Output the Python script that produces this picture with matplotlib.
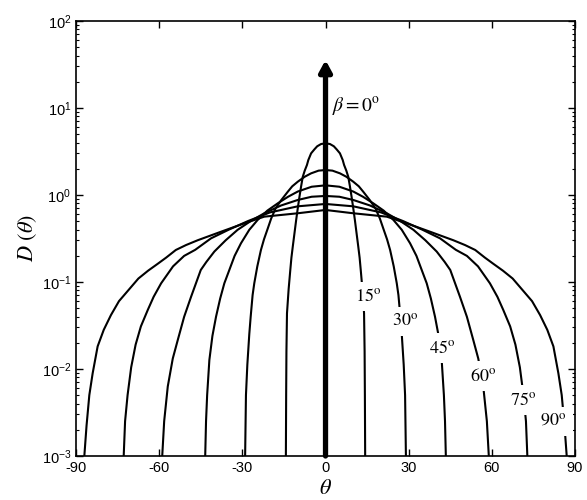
import numpy as np
import matplotlib
matplotlib.use("Agg")
import matplotlib.pyplot as plt
from matplotlib.ticker import LogLocator, NullFormatter

plt.rcParams["font.family"] = ["Liberation Sans", "DejaVu Sans"]
plt.rcParams["mathtext.fontset"] = "stix"
plt.rcParams["axes.unicode_minus"] = False

# right half of each curve: theta in degrees, log10 D(theta)
theta_15 = [0, 1.6, 3.0, 4.0, 5.2, 6.2, 6.7, 7.5, 8.2, 8.8, 9.4, 10.0, 10.6, 11.2,
            11.8, 12.3, 12.7, 13.3, 13.9, 14.1, 14.2, 14.3]
logd_15 = [0.594, 0.586, 0.56, 0.525, 0.479, 0.402, 0.345, 0.28, 0.21, 0.10, -0.02,
           -0.15, -0.29, -0.44, -0.59, -0.72, -0.86, -1.08, -1.36, -1.8, -2.3, -3.0]

theta_30 = [0, 2.5, 5.2, 7.5, 10, 12, 13.6, 16, 18, 19.6, 21, 22.2, 23.3, 24.6,
            25.7, 26.3, 27.0, 27.5, 28.2, 28.7, 29.0]
logd_30 = [0.287, 0.28, 0.249, 0.21, 0.153, 0.10, 0.038, -0.06, -0.153, -0.27, -0.40,
           -0.51, -0.632, -0.82, -1.015, -1.15, -1.4, -1.6, -1.95, -2.3, -3.0]

theta_45 = [0, 5, 10, 13.5, 17.2, 21, 24.5, 27.5, 30.5, 32.8, 34.7, 36.5, 38, 39.5,
            40.8, 41.9, 42.7, 43.1, 43.4]
logd_45 = [0.111, 0.095, 0.04, -0.02, -0.095, -0.18, -0.287, -0.40, -0.555, -0.70,
           -0.862, -1.015, -1.19, -1.40, -1.62, -1.897, -2.3, -2.6, -3.0]

theta_60 = [0, 5, 10, 16, 22.1, 27, 31.7, 36, 40.1, 43, 45, 48.5, 51, 53.3, 55.1,
            56.9, 58.2, 58.9]
logd_60 = [-0.011, -0.02, -0.057, -0.12, -0.21, -0.30, -0.40, -0.52, -0.65, -0.77,
           -0.862, -1.17, -1.40, -1.667, -1.88, -2.2, -2.6, -3.0]

theta_75 = [0, 10, 20, 28, 35, 41.3, 47, 51, 55, 59.3, 62, 64.1, 66.6, 68.5, 70.1,
            71.4, 72.3, 72.8]
logd_75 = [-0.103, -0.13, -0.20, -0.30, -0.40, -0.498, -0.63, -0.70, -0.82, -1.015,
           -1.17, -1.32, -1.51, -1.72, -1.98, -2.3, -2.6, -3.0]

theta_90 = [0, 10, 22.1, 29.3, 37.7, 46.1, 50.3, 54, 57.5, 60.5, 64, 67.5, 71, 74.5,
            77.4, 80, 82.2, 84, 85.2, 86.2, 87.0]
logd_90 = [-0.172, -0.21, -0.249, -0.326, -0.422, -0.52, -0.575, -0.632, -0.72, -0.79,
           -0.87, -0.96, -1.09, -1.22, -1.38, -1.55, -1.74, -2.05, -2.3, -2.65, -3.0]

curves = [(theta_15, logd_15), (theta_30, logd_30), (theta_45, logd_45),
          (theta_60, logd_60), (theta_75, logd_75), (theta_90, logd_90)]

# curve labels and where they sit
label_text = ["15", "30", "45", "60", "75", "90"]
label_theta = [15.3, 28.7, 41.9, 56.9, 71.4, 82.2]
label_d = [0.068, 0.035, 0.0173, 0.0083, 0.0044, 0.0025]

arrow_top = 35.6
x_ticks = [-90, -60, -30, 0, 30, 60, 90]

fig = plt.figure(figsize=(5.87, 5.0), dpi=100)
ax = fig.add_axes([0.1295, 0.088, 0.8501, 0.870])

for th, ld in curves:
    th = np.array(th)
    d = 10.0 ** np.array(ld)
    # the curves are symmetric about theta = 0
    x = np.concatenate([-th[::-1], th[1:]])
    y = np.concatenate([d[::-1], d[1:]])
    ax.plot(x, y, color="k", lw=1.5, zorder=2)

# beta = 0 is a delta at theta = 0
ax.annotate("", xy=(0, arrow_top), xytext=(0, 1e-3),
            arrowprops=dict(arrowstyle="-|>,head_length=0.55,head_width=0.3",
                            lw=3.8, color="k", mutation_scale=12,
                            shrinkA=0, shrinkB=0),
            zorder=4)
ax.text(2.3, 9.0, r"$\beta = 0^{\mathrm{o}}$", fontsize=14, ha="left", va="baseline")

for txt, lt, ld in zip(label_text, label_theta, label_d):
    ax.text(lt, ld, txt + r"$^{\mathrm{o}}$", fontsize=13, ha="center", va="center",
            family="STIXGeneral", zorder=3,
            bbox=dict(boxstyle="square,pad=0.35", fc="white", ec="none"))

ax.set_yscale("log")
ax.set_xlim(-90, 90)
ax.set_ylim(1e-3, 1e2)
ax.set_xticks(x_ticks)
ax.set_xticklabels([str(t) for t in x_ticks])
ax.yaxis.set_major_locator(LogLocator(base=10, numticks=10))
ax.yaxis.set_minor_locator(LogLocator(base=10, subs=np.arange(2, 10), numticks=20))
ax.yaxis.set_minor_formatter(NullFormatter())

ax.tick_params(which="both", direction="in", top=True, right=True, labelsize=10.5)
ax.tick_params(which="major", length=5, width=1.0)
ax.tick_params(which="minor", length=2.5, width=0.8)
for sp in ax.spines.values():
    sp.set_linewidth(1.2)
    sp.set_zorder(5)

ax.set_xlabel(r"$\theta$", fontsize=16, labelpad=2)
ax.set_ylabel(r"$D\ (\theta)$", fontsize=16, labelpad=2)

fig.savefig("out.png", dpi=100)
